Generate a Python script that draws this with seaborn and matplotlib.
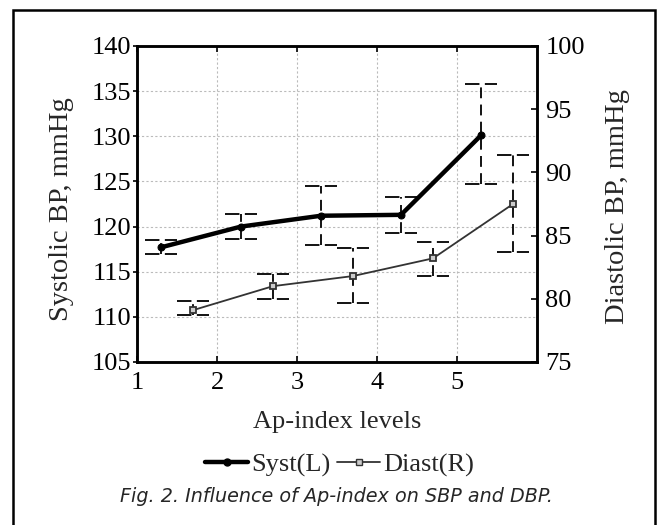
import pandas as pd
import matplotlib
matplotlib.use("Agg")
import matplotlib.pyplot as plt
import seaborn as sns
from matplotlib.patches import Rectangle
from matplotlib.lines import Line2D

# Data
syst_x = [1.3, 2.3, 3.3, 4.3, 5.3]
syst = [117.7, 120.0, 121.2, 121.3, 130.1]
syst_lo = [117.0, 118.6, 118.0, 119.3, 124.7]
syst_hi = [118.5, 121.4, 124.5, 123.3, 135.8]

diast_x = [1.7, 2.7, 3.7, 4.7, 5.7]
diast = [79.1, 81.0, 81.8, 83.2, 87.5]
diast_lo = [78.7, 80.0, 79.7, 81.8, 83.7]
diast_hi = [79.8, 82.0, 84.0, 84.5, 91.4]

x_ticks = [1, 2, 3, 4, 5]
left_ticks = [105, 110, 115, 120, 125, 130, 135, 140]
right_ticks = [75, 80, 85, 90, 95, 100]

df_s = pd.DataFrame({"level": syst_x, "bp": syst})
df_d = pd.DataFrame({"level": diast_x, "bp": diast})

sns.set_style("white")
plt.rcParams['font.family'] = ['Liberation Serif', 'DejaVu Serif']

SERIF = 19
VLAB = 20.5

fig = plt.figure(figsize=(6.62, 5.25), dpi=100)
ax = fig.add_axes([137/662, 1 - 362/525, 400/662, 316/525])
ax2 = ax.twinx()

# error bars: dashed stems and dashed caps
cap = 0.2
stem_ls = (0, (6, 3.5))
cap_ls = (0, (8, 3))
ax.vlines(syst_x, syst_lo, syst_hi, colors="black", linestyles=[stem_ls], lw=1.3, zorder=2)
ax.hlines(syst_lo, [v - cap for v in syst_x], [v + cap for v in syst_x],
          colors="black", linestyles=[cap_ls], lw=1.3, zorder=2)
ax.hlines(syst_hi, [v - cap for v in syst_x], [v + cap for v in syst_x],
          colors="black", linestyles=[cap_ls], lw=1.3, zorder=2)
ax2.vlines(diast_x, diast_lo, diast_hi, colors="black", linestyles=[stem_ls], lw=1.3, zorder=2)
ax2.hlines(diast_lo, [v - cap for v in diast_x], [v + cap for v in diast_x],
           colors="black", linestyles=[cap_ls], lw=1.3, zorder=2)
ax2.hlines(diast_hi, [v - cap for v in diast_x], [v + cap for v in diast_x],
           colors="black", linestyles=[cap_ls], lw=1.3, zorder=2)

# lines
sns.lineplot(data=df_s, x="level", y="bp", ax=ax, color="black", lw=3.2,
             marker="o", markersize=5, markeredgecolor="black", zorder=4)
sns.lineplot(data=df_d, x="level", y="bp", ax=ax2, color="#333333", lw=1.3,
             marker="s", markersize=5, markerfacecolor="#cccccc",
             markeredgecolor="#333333", markeredgewidth=1.3, zorder=4)

ax.set_xlim(1, 6)
ax.set_ylim(105, 140)
ax2.set_ylim(75, 100)
ax.set_xticks(x_ticks)
ax.set_yticks(left_ticks)
ax2.set_yticks(right_ticks)

ax.grid(True, color="#bbbbbb", ls=(0, (2, 2)), lw=0.8)
ax2.grid(False)
ax.set_axisbelow(True)

for a in (ax, ax2):
    for s in a.spines.values():
        s.set_linewidth(1.8)
        s.set_color("black")

ax.tick_params(axis="x", which="both", direction="in", length=4, width=1.2,
               top=True, bottom=True, labelsize=SERIF, pad=7, colors="black")
ax.tick_params(axis="y", direction="out", length=3, width=1.2,
               labelsize=SERIF, pad=1, colors="black")
ax2.tick_params(axis="y", direction="in", length=4, width=1.2,
                labelsize=SERIF, pad=6, colors="black")

ax.set_xlabel("Ap-index levels", fontsize=SERIF, va="center")
ax.xaxis.set_label_coords(0.5, -(422 - 362) / 316)
ax.set_ylabel("Systolic BP, mmHg", fontsize=VLAB, va="center")
ax.yaxis.set_label_coords((61 - 137) / 400, (362 - 209) / 316)
ax2.set_ylabel("Diastolic BP, mmHg", fontsize=VLAB, va="center")
ax2.yaxis.set_label_coords((617 - 137) / 400, (362 - 207) / 316)

handles = [
    Line2D([], [], color="black", lw=3.2, marker="o", markersize=5),
    Line2D([], [], color="#333333", lw=1.3, marker="s", markersize=5,
           markerfacecolor="#cccccc", markeredgecolor="#333333"),
]
fig.legend(handles, ["Syst(L)", "Diast(R)"], loc="center", bbox_to_anchor=(340/662, 1 - 465/525),
           ncol=2, frameon=False, fontsize=SERIF, handlelength=1.6, handletextpad=0.15,
           columnspacing=0.25, borderpad=0)

fig.text(336/662, 1 - 497/525, "Fig. 2. Influence of Ap-index on SBP and DBP.",
         family="DejaVu Sans", style="italic", fontsize=13.8, ha="center", va="center")

# frame around the whole figure
fig.add_artist(Rectangle((13/662, -0.05), (655 - 13)/662, 1.05 - 10/525,
                         transform=fig.transFigure, fill=False, lw=1.8, ec="black"))

fig.savefig("out.png", dpi=100)
plt.close(fig)
